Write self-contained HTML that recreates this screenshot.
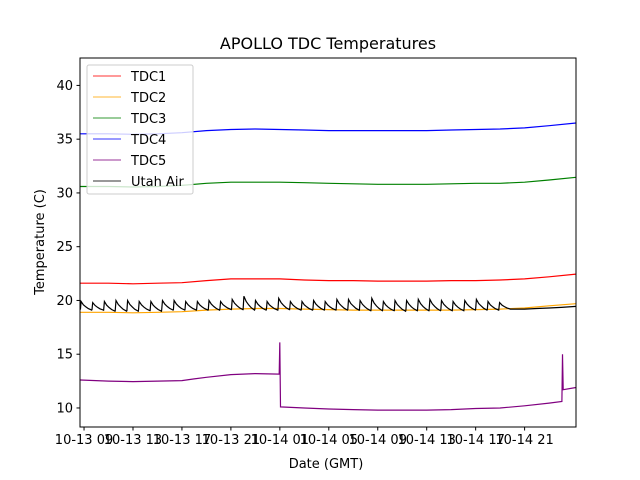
<!DOCTYPE html>
<html><head><meta charset="utf-8"><style>
body{margin:0;background:#fff;}
svg{display:block;font-family:"DejaVu Sans","Liberation Sans",sans-serif;}
</style></head><body>
<svg id="chart" width="640" height="480" viewBox="0 0 640 480"></svg>
<script>
// Data (hours since 10-13 09:00 GMT)
const hours = [-0.3,2,4,6,8,10,12,14,16,18,20,22,24,26,28,30,32,34,36,38,40.2];
const tdc1 = [21.6,21.6,21.55,21.6,21.65,21.85,22.0,22.0,22.0,21.9,21.85,21.85,21.8,21.8,21.8,21.85,21.85,21.9,22.0,22.2,22.45];
const tdc2 = [18.9,18.9,18.85,18.9,18.95,19.1,19.2,19.25,19.25,19.2,19.15,19.1,19.1,19.1,19.1,19.1,19.15,19.2,19.3,19.5,19.7];
const tdc3 = [30.6,30.6,30.55,30.6,30.7,30.9,31.0,31.0,31.0,30.95,30.9,30.85,30.8,30.8,30.8,30.85,30.9,30.9,31.0,31.2,31.45];
const tdc4 = [35.5,35.5,35.45,35.5,35.6,35.8,35.9,35.95,35.9,35.85,35.8,35.8,35.8,35.8,35.8,35.85,35.9,35.95,36.05,36.25,36.5];
const tdc5Hours = [-0.3,2,4,6,8,9,10,12,14,15.95,16.0,16.05,18,20,22,24,26,28,30,32,34,36,38,39.05,39.1,39.15,40.2];
const tdc5 = [12.6,12.5,12.45,12.5,12.55,12.7,12.85,13.1,13.2,13.15,16.1,10.1,10.0,9.9,9.85,9.8,9.8,9.8,9.85,9.95,10.0,10.2,10.45,10.6,15.0,11.7,11.9];
const utahPeaks = [19.9,19.8,19.9,20.0,20.0,19.9,19.9,20.0,20.0,19.9,19.9,20.0,19.9,20.1,20.4,20.0,19.9,20.2,19.9,19.9,20.0,19.9,20.1,20.1,20.0,20.2,19.9,20.0,20.0,20.1,20.1,20.0,19.9,20.0,20.1,19.9,19.8];
const utahTroughs = [19.1,19.1,19.0,19.0,19.0,19.05,19.0,19.1,19.1,19.1,19.1,19.1,19.15,19.15,19.1,19.1,19.1,19.15,19.1,19.1,19.1,19.1,19.1,19.1,19.05,19.05,19.05,19.0,19.05,19.05,19.05,19.05,19.05,19.1,19.1,19.1,19.2];
const utahTail = [[35.2,19.2],[36,19.2],[37,19.25],[38,19.3],[39,19.35],[40.2,19.45]];
const xTickLabels = ["10-13 09","10-13 13","10-13 17","10-13 21","10-14 01","10-14 05","10-14 09","10-14 13","10-14 17","10-14 21"];
const xTickHours = [0,4,8,12,16,20,24,28,32,36];
const yTicks = [10,15,20,25,30,35,40];

const L=80,R=576,T=58,B=427, tMin=-0.33, tMax=40.2, vMin=8.23, vMax=42.55;
const X=t=>L+(t-tMin)/(tMax-tMin)*(R-L);
const Y=v=>B-(v-vMin)/(vMax-vMin)*(B-T);
const svg=document.getElementById('chart');
const NS='http://www.w3.org/2000/svg';
function mk(tag,attrs,parent){const e=document.createElementNS(NS,tag);for(const k in attrs)e.setAttribute(k,attrs[k]);(parent||svg).appendChild(e);return e;}

const title=mk('text',{x:328,y:49,'text-anchor':'middle','font-size':16,fill:'#000'});


title.textContent='APOLLO TDC Temperatures';

function series(ts,vs,color,name){
  const p=mk('polyline',{points:ts.map((t,i)=>X(t).toFixed(1)+','+Y(vs[i]).toFixed(1)).join(' '),fill:'none',stroke:color,'stroke-width':1.2});
  
  
}
series(hours,tdc1,'#ff0000','tdc1-line');
series(hours,tdc2,'#ffa500','tdc2-line');
series(hours,tdc3,'#008000','tdc3-line');
series(hours,tdc4,'#0000ff','tdc4-line');
series(tdc5Hours,tdc5,'#800080','tdc5-line');
// Utah air sawtooth
const period=0.95, t0=-0.3;
const uts=[], uvs=[];
utahPeaks.forEach((pk,i)=>{
  const ts=t0+i*period, tr=utahTroughs[i], a=pk-tr;
  uts.push(ts);uvs.push(tr+0.05);
  uts.push(ts+0.06);uvs.push(pk);
  uts.push(ts+0.25);uvs.push(tr+a*0.62);
  uts.push(ts+0.45);uvs.push(tr+a*0.38);
  uts.push(ts+0.65);uvs.push(tr+a*0.18);
  uts.push(ts+period-0.02);uvs.push(tr);
});
utahTail.forEach(d=>{uts.push(d[0]);uvs.push(d[1]);});
series(uts,uvs,'#000000','utah-air-line');

// axes frame
const frame=mk('rect',{x:L,y:T,width:R-L,height:B-T,fill:'none',stroke:'#000','stroke-width':1});



yTicks.forEach(v=>{
  const y=Y(v);
  mk('line',{x1:L-3.5,x2:L,y1:y,y2:y,stroke:'#000'});
  const t=mk('text',{x:L-7,y:y+4.5,'text-anchor':'end','font-size':13,fill:'#000'});
  
  
  t.textContent=v;
});
xTickHours.forEach((h,i)=>{
  const x=X(h);
  mk('line',{x1:x,x2:x,y1:B,y2:B+3.5,stroke:'#000'});
  const t=mk('text',{x:x,y:B+17,'text-anchor':'middle','font-size':13,fill:'#000'});
  
  
  t.textContent=xTickLabels[i];
});
const xt=mk('text',{x:326,y:468,'text-anchor':'middle','font-size':13,fill:'#000'});


xt.textContent='Date (GMT)';
const yt=mk('text',{x:0,y:0,transform:'translate(44,242) rotate(-90)','text-anchor':'middle','font-size':13,fill:'#000'});


yt.textContent='Temperature (C)';

// legend
const lg=mk('g',{});


mk('rect',{x:87,y:65,width:106,height:129,rx:2,fill:'#fff','fill-opacity':0.8,stroke:'#ccc'},lg);
const names=['TDC1','TDC2','TDC3','TDC4','TDC5','Utah Air'];
const cols=['#ff0000','#ffa500','#008000','#0000ff','#800080','#000000'];
names.forEach((n,i)=>{
  const y=76+i*21;
  const g=mk('g',{},lg);
  
  
  mk('line',{x1:93,x2:121,y1:y,y2:y,stroke:cols[i],'stroke-width':1,'stroke-opacity':0.8},g);
  const t=mk('text',{x:131,y:y+5,'font-size':13,fill:'#000'},g);
  t.textContent=n;
});
</script>
</body></html>
